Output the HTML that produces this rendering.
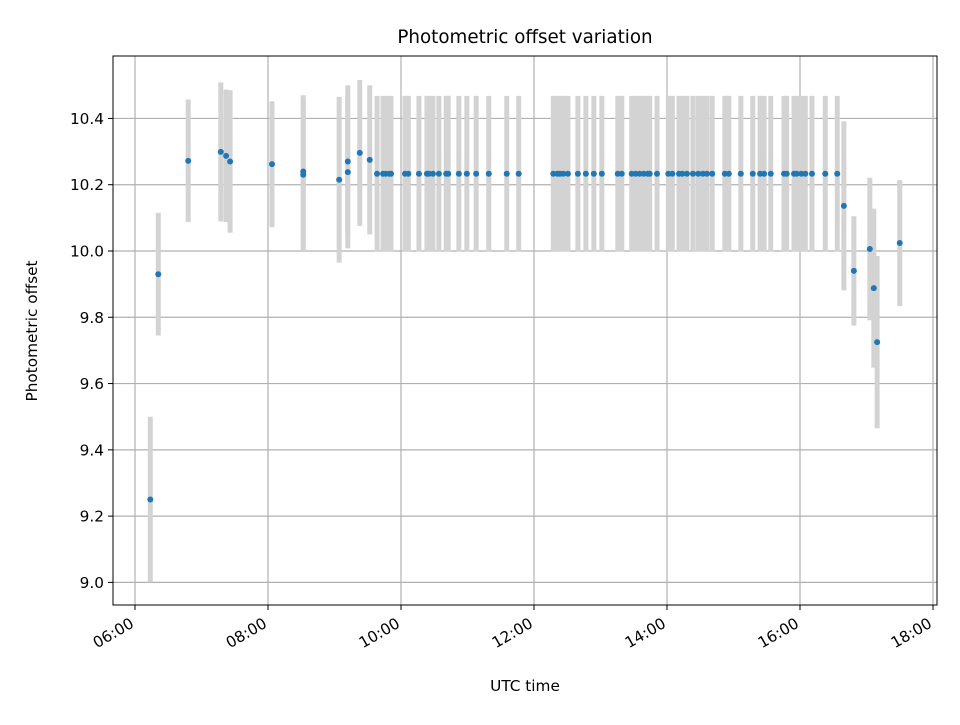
<!DOCTYPE html>
<html><head><meta charset="utf-8"><style>
body{margin:0;background:#fff}
svg text{font-family:"DejaVu Sans",sans-serif;fill:#000}
.tk{font-size:15.3px}
.ax{font-size:15.3px}
.tt{font-size:18.3px}
</style></head><body>
<svg id="chart" width="960" height="720" viewBox="0 0 960 720" xmlns="http://www.w3.org/2000/svg">
<rect width="960" height="720" fill="#fff"/>
<g id="grid"></g>
<g id="bars"></g>
<g id="pts"></g>
<rect x="113" y="56" width="824" height="549" fill="none" stroke="#000" stroke-width="1"/>
<g id="ticks"></g>
<text class="tt" x="525" y="43" text-anchor="middle">Photometric offset variation</text>
<text class="ax" x="525" y="691" text-anchor="middle">UTC time</text>
<text class="ax" transform="translate(37,331) rotate(-90)" text-anchor="middle">Photometric offset</text>
</svg>
<script>
const times=[6.23,6.35,6.80,7.29,7.37,7.43,8.06,8.53,8.53,9.07,9.20,9.20,9.38,9.53,9.64,9.73,9.77,9.82,9.85,10.06,10.11,10.27,10.39,10.42,10.48,10.57,10.68,10.71,10.87,10.99,11.13,11.32,11.59,11.77,12.29,12.35,12.39,12.44,12.51,12.66,12.78,12.90,13.02,13.26,13.32,13.47,13.53,13.59,13.65,13.71,13.74,13.85,14.02,14.08,14.18,14.23,14.30,14.39,14.47,14.54,14.60,14.68,14.87,14.93,15.11,15.29,15.40,15.46,15.56,15.76,15.80,15.91,15.95,16.02,16.08,16.18,16.38,16.56,16.66,16.81,17.05,17.11,17.16,17.50];
const values=[9.25,9.93,10.272,10.299,10.287,10.27,10.262,10.24,10.23,10.215,10.238,10.27,10.296,10.275,10.233,10.233,10.233,10.233,10.233,10.233,10.233,10.233,10.233,10.233,10.233,10.233,10.233,10.233,10.233,10.233,10.233,10.233,10.233,10.233,10.233,10.233,10.233,10.233,10.233,10.233,10.233,10.233,10.233,10.233,10.233,10.233,10.233,10.233,10.233,10.233,10.233,10.233,10.233,10.233,10.233,10.233,10.233,10.233,10.233,10.233,10.233,10.233,10.233,10.233,10.233,10.233,10.233,10.233,10.233,10.233,10.233,10.233,10.233,10.233,10.233,10.233,10.233,10.233,10.136,9.94,10.006,9.888,9.725,10.024];
const errs=[0.25,0.185,0.185,0.21,0.2,0.215,0.19,0.23,0.23,0.25,0.23,0.23,0.22,0.225,0.235,0.235,0.235,0.235,0.235,0.235,0.235,0.235,0.235,0.235,0.235,0.235,0.235,0.235,0.235,0.235,0.235,0.235,0.235,0.235,0.235,0.235,0.235,0.235,0.235,0.235,0.235,0.235,0.235,0.235,0.235,0.235,0.235,0.235,0.235,0.235,0.235,0.235,0.235,0.235,0.235,0.235,0.235,0.235,0.235,0.235,0.235,0.235,0.235,0.235,0.235,0.235,0.235,0.235,0.235,0.235,0.235,0.235,0.235,0.235,0.235,0.235,0.235,0.235,0.255,0.165,0.215,0.24,0.26,0.19];
const yTicks=[9.0,9.2,9.4,9.6,9.8,10.0,10.2,10.4];
const xTicks=[6,8,10,12,14,16,18];
const xTickLabels=["06:00","08:00","10:00","12:00","14:00","16:00","18:00"];
const NS="http://www.w3.org/2000/svg";
const x=h=>135+(h-6)*66.5;
const y=v=>251-(v-10)*331.4;
function mk(tag,attrs,parent){const e=document.createElementNS(NS,tag);for(const k in attrs)e.setAttribute(k,attrs[k]);document.getElementById(parent).appendChild(e);return e;}
yTicks.forEach(t=>{
 const g=mk('line',{x1:113,x2:937,y1:y(t),y2:y(t),stroke:'#b0b0b0','stroke-width':1.2},'grid');
 
 
 const tk=mk('line',{x1:108,x2:113,y1:y(t),y2:y(t),stroke:'#000'},'ticks');
 
 
 const lb=mk('text',{x:104,y:y(t)+5.5,'text-anchor':'end','class':'tk'},'ticks');
 
 
 lb.textContent=t.toFixed(1);
});
xTicks.forEach((t,i)=>{
 const g=mk('line',{x1:x(t),x2:x(t),y1:56,y2:605,stroke:'#b0b0b0','stroke-width':1.2},'grid');
 
 
 const tk=mk('line',{x1:x(t),x2:x(t),y1:605,y2:610,stroke:'#000'},'ticks');
 
 
 const lb=mk('text',{transform:`translate(${x(t)-6},616) rotate(-30)`,'text-anchor':'end','class':'tk',y:12},'ticks');
 
 
 lb.textContent=xTickLabels[i];
});
times.forEach((t,i)=>{
 const top=Math.max(56,y(values[i]+errs[i])),bot=Math.min(605,y(values[i]-errs[i]));
 const b=mk('line',{x1:x(t),x2:x(t),y1:top,y2:bot,stroke:'#d3d3d3','stroke-width':5},'bars');
 
 
});
times.forEach((t,i)=>{
 const p=mk('circle',{cx:x(t),cy:y(values[i]),r:3,fill:'#1f77b4'},'pts');
 
 
});
</script>
</body></html>
